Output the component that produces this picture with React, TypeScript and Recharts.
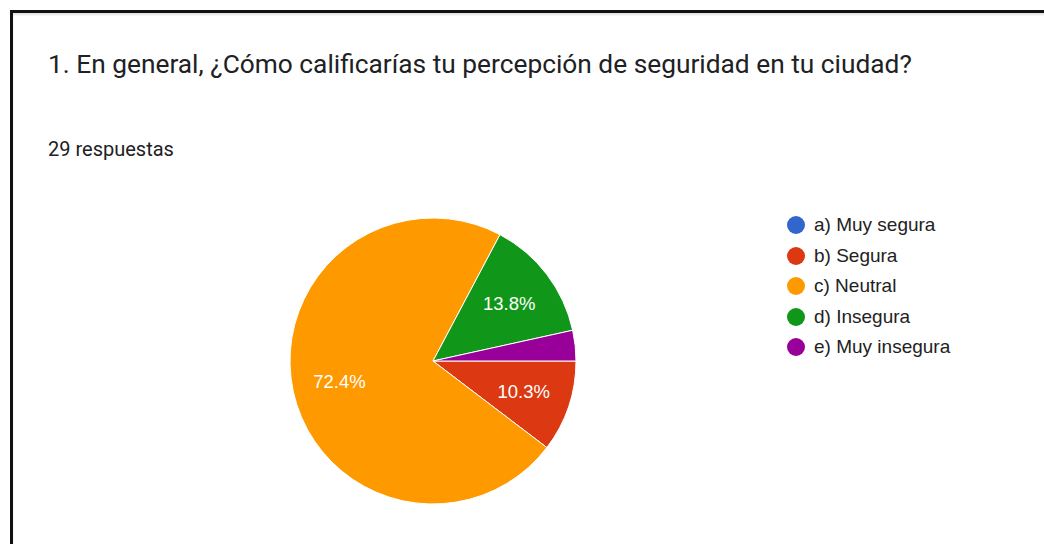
import React from 'react';
import { PieChart, Pie, Cell, Legend } from 'recharts';

const categories = ['a) Muy segura', 'b) Segura', 'c) Neutral', 'd) Insegura', 'e) Muy insegura'];
const counts = [0, 3, 21, 4, 1];
const colors = ['#3366cc', '#dc3912', '#ff9900', '#109618', '#990099'];

const title = '1. En general, ¿Cómo calificarías tu percepción de seguridad en tu ciudad?';
const subtitle = '29 respuestas';

const data = categories.map((name, i) => ({ name, value: counts[i] }));

const RAD = Math.PI / 180;

// percentage text inside the slice, small slices get none
const renderLabel = ({ cx, cy, midAngle, outerRadius, percent }) => {
  if (percent < 0.05) return null;
  const r = outerRadius * 0.67;
  const x = cx + r * Math.cos(-midAngle * RAD);
  const y = cy + r * Math.sin(-midAngle * RAD);
  return (
    <text
      x={x}
      y={y}
      fill="#ffffff"
      textAnchor="middle"
      dominantBaseline="central"
      style={{ fontFamily: 'Arial, "Liberation Sans", sans-serif', fontSize: 18.5 }}
    >
      {(percent * 100).toFixed(1)}%
    </text>
  );
};

const renderLegend = () => (
  <div>
    {categories.map((c, i) => (
      <div key={c} style={{ display: 'flex', alignItems: 'center', height: 30.5 }}>
        <span
          style={{
            width: 18,
            height: 18,
            borderRadius: '50%',
            background: colors[i],
            display: 'inline-block',
            marginRight: 9,
          }}
        />
        <span style={{ fontFamily: 'Arial, "Liberation Sans", sans-serif', fontSize: 19, color: '#222' }}>{c}</span>
      </div>
    ))}
  </div>
);

export default function App() {
  return (
    <div style={{ position: 'absolute', left: 0, top: 0, width: 1044, height: 544, background: '#fff', overflow: 'hidden' }}>
      <div
        style={{
          position: 'absolute',
          left: 10,
          top: 10,
          width: 1100,
          height: 600,
          borderLeft: '3px solid #111',
          borderTop: '3px solid #111',
          boxShadow: 'inset 0 2px 2px #e3e3e8',
        }}
      />
      <div
        style={{
          position: 'absolute',
          left: 48,
          top: 48,
          fontFamily: 'Roboto, sans-serif',
          fontSize: 26.3,
          color: '#202124',
          whiteSpace: 'nowrap',
          lineHeight: '32px',
        }}
      >
        {title}
      </div>
      <div
        style={{
          position: 'absolute',
          left: 48,
          top: 137,
          fontFamily: 'Roboto, sans-serif',
          fontSize: 20,
          color: '#202124',
          whiteSpace: 'nowrap',
          lineHeight: '24px',
        }}
      >
        {subtitle}
      </div>
      <PieChart
        width={1044}
        height={544}
        margin={{ top: 0, right: 0, bottom: 0, left: 0 }}
        style={{ position: 'absolute', left: 0, top: 0 }}
      >
        <Pie
          data={data}
          dataKey="value"
          nameKey="name"
          cx={433}
          cy={361}
          outerRadius={143}
          startAngle={0}
          endAngle={-360}
          stroke="#ffffff"
          strokeWidth={1}
          label={renderLabel}
          labelLine={false}
          isAnimationActive={false}
        >
          {data.map((d, i) => (
            <Cell key={d.name} fill={colors[i]} />
          ))}
        </Pie>
        <Legend
          content={renderLegend}
          layout="vertical"
          wrapperStyle={{ position: 'absolute', left: 787, top: 210, width: 230 }}
        />
      </PieChart>
    </div>
  );
}
